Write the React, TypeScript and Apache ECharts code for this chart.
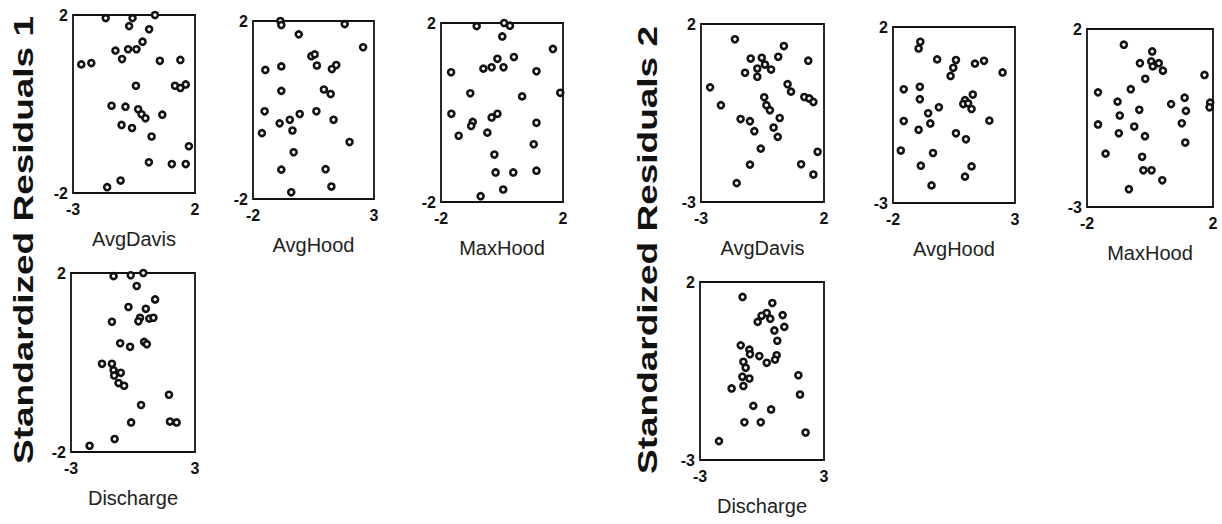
import React, { useEffect, useRef } from "react";
import * as echarts from "echarts";

// Predictor names shared by both residual groups
const predictorNames = ["AvgDavis", "AvgHood", "MaxHood", "Discharge"];
// x range of each predictor panel
const xRanges: [number, number][] = [[-3, 2], [-2, 3], [-2, 2], [-3, 3]];
// y range of each residual group
const yRange1: [number, number] = [-2, 2];
const yRange2: [number, number] = [-3, 2];
const groupTitles = ["Standardized Residuals 1", "Standardized Residuals 2"];

// Residual 1 vs predictors: [predictor, residual]
const res1AvgDavis: [number, number][] = [
  [-1.66, 1.93], [-0.56, 1.93], [0.36, 2.0], [-0.7, 1.75], [0.12, 1.68], [-0.15, 1.4],
  [-1.26, 1.2], [-0.74, 1.23], [-0.4, 1.23], [-0.99, 1.01], [-2.66, 0.89], [-2.25, 0.92],
  [0.56, 0.97], [1.4, 0.99], [-0.42, 0.41], [1.18, 0.41], [1.4, 0.36], [1.62, 0.44],
  [-1.42, -0.04], [-0.85, -0.06], [-0.33, -0.12], [-0.19, -0.23], [-0.03, -0.32], [0.66, -0.24],
  [-1.01, -0.47], [-0.58, -0.54], [0.22, -0.73], [1.75, -0.95], [0.11, -1.31], [1.05, -1.35],
  [1.62, -1.35], [-1.05, -1.72], [-1.6, -1.87],
];
const res1AvgHood: [number, number][] = [
  [-0.87, 2.0], [-0.83, 1.91], [1.79, 1.93], [-0.11, 1.7], [2.55, 1.41], [0.41, 1.21],
  [0.55, 1.25], [0.64, 1.0], [1.26, 0.92], [1.44, 1.01], [-1.49, 0.9], [-0.83, 0.98],
  [-0.83, 0.43], [0.93, 0.46], [1.21, 0.36], [-1.52, -0.03], [0.62, -0.03], [-0.07, -0.09],
  [-0.48, -0.22], [-0.9, -0.3], [1.33, -0.22], [-0.37, -0.46], [-1.63, -0.52], [1.99, -0.72],
  [-0.32, -0.95], [-0.83, -1.34], [1.0, -1.33], [1.24, -1.72], [-0.42, -1.85],
];
const res1MaxHood: [number, number][] = [
  [-0.83, 1.93], [0.07, 2.0], [0.26, 1.94], [0.01, 1.7], [1.67, 1.42], [-0.15, 1.2],
  [0.39, 1.24], [-0.61, 0.98], [-0.34, 1.01], [0.05, 1.01], [-1.67, 0.9], [1.13, 0.92],
  [-1.04, 0.43], [1.91, 0.44], [0.66, 0.36], [-1.66, -0.03], [-0.34, -0.11], [-0.15, -0.03],
  [-0.96, -0.21], [-1.01, -0.3], [1.13, -0.23], [-1.42, -0.52], [-0.48, -0.45], [1.04, -0.71],
  [-0.25, -0.94], [-0.21, -1.34], [0.37, -1.34], [1.13, -1.3], [0.04, -1.72], [-0.7, -1.87],
];
const res1Discharge: [number, number][] = [
  [-0.94, 1.93], [-0.11, 1.95], [0.5, 2.0], [0.18, 1.71], [1.07, 1.41], [-0.22, 1.24],
  [0.62, 1.2], [0.34, 1.0], [0.79, 0.98], [0.99, 1.0], [-1.02, 0.91], [0.26, 0.92],
  [-0.62, 0.43], [-0.14, 0.35], [0.54, 0.46], [0.67, 0.41], [-1.5, -0.03], [-1.02, -0.03],
  [-0.94, -0.17], [-0.59, -0.23], [-0.91, -0.29], [-0.7, -0.46], [-0.43, -0.52], [1.74, -0.72],
  [0.39, -0.95], [-0.09, -1.34], [1.79, -1.32], [2.11, -1.34], [-0.89, -1.71], [-2.1, -1.86],
];

// Residual 2 vs predictors: [predictor, residual]
const res2AvgDavis: [number, number][] = [
  [-1.62, 1.57], [0.37, 1.38], [-0.98, 1.03], [-0.53, 1.05], [0.14, 1.08], [1.36, 0.97],
  [-0.4, 0.86], [-0.71, 0.75], [-0.15, 0.72], [-1.21, 0.63], [-0.71, 0.52], [-2.63, 0.22],
  [0.52, 0.31], [0.66, 0.1], [1.2, -0.05], [1.4, -0.09], [1.57, -0.19], [-0.43, -0.06],
  [-2.19, -0.28], [-0.34, -0.28], [-0.2, -0.42], [0.2, -0.64], [-1.39, -0.67], [-1.01, -0.73],
  [-0.83, -1.01], [-0.05, -0.91], [0.12, -1.17], [-0.57, -1.5], [1.74, -1.59], [-1.01, -1.95],
  [1.07, -1.94], [1.57, -2.23], [-1.55, -2.47],
];
const res2AvgHood: [number, number][] = [
  [-0.88, 1.58], [-0.95, 1.39], [-0.19, 1.08], [0.58, 1.06], [1.36, 0.96], [1.73, 1.04],
  [0.47, 0.84], [0.36, 0.61], [2.49, 0.71], [-1.56, 0.23], [-0.9, 0.3], [-0.9, -0.05],
  [1.27, 0.08], [0.95, -0.08], [0.88, -0.19], [1.08, -0.17], [1.22, -0.33], [-0.12, -0.28],
  [-0.56, -0.45], [-1.56, -0.67], [-0.47, -0.74], [1.95, -0.66], [-0.95, -0.92], [0.58, -1.02],
  [0.99, -1.19], [-1.68, -1.51], [-0.36, -1.58], [-0.86, -1.94], [1.22, -1.96], [0.95, -2.25],
  [-0.42, -2.5],
];
const res2MaxHood: [number, number][] = [
  [-0.83, 1.56], [0.07, 1.37], [-0.32, 1.04], [0.04, 1.09], [0.09, 0.95], [0.28, 1.04],
  [0.41, 0.83], [1.73, 0.71], [-0.15, 0.6], [-0.61, 0.31], [-1.65, 0.22], [1.1, 0.07],
  [1.91, -0.07], [1.89, -0.2], [-1.03, -0.04], [0.67, -0.11], [-0.34, -0.27], [1.14, -0.3],
  [-0.96, -0.43], [-1.65, -0.68], [-0.5, -0.74], [1.01, -0.65], [-0.99, -0.93], [-0.16, -1.01],
  [1.12, -1.19], [-1.41, -1.5], [-0.25, -1.59], [-0.21, -1.97], [0.05, -1.97], [0.39, -2.25],
  [-0.67, -2.5],
];
const res2Discharge: [number, number][] = [
  [-0.94, 1.58], [0.5, 1.41], [1.0, 1.07], [0.23, 1.13], [-0.02, 1.05], [0.4, 0.97],
  [-0.21, 0.88], [1.08, 0.74], [0.6, 0.64], [0.74, 0.35], [-1.03, 0.22], [-0.61, 0.1],
  [-0.58, -0.03], [-0.13, -0.08], [0.71, -0.06], [0.63, -0.18], [0.23, -0.27], [-0.9, -0.24],
  [-0.79, -0.41], [-0.95, -0.66], [-0.61, -0.71], [-0.9, -0.92], [-1.47, -0.99], [1.76, -0.62],
  [1.84, -1.16], [-0.42, -1.48], [0.44, -1.58], [-0.85, -1.94], [-0.06, -1.94], [2.11, -2.23],
  [-2.08, -2.47],
];

const group1Data = [res1AvgDavis, res1AvgHood, res1MaxHood, res1Discharge];
const group2Data = [res2AvgDavis, res2AvgHood, res2MaxHood, res2Discharge];

// Panel frames in pixels: [left, top, width, height]
const frames1 = [
  [73, 15, 122, 178],
  [253, 21, 121, 178],
  [441, 23, 122, 179],
  [71, 273, 124, 179],
];
const frames2 = [
  [701, 24, 123, 178],
  [893, 27, 122, 176],
  [1087, 29, 126, 178],
  [700, 282, 124, 178],
];

const FONT = "'Liberation Sans', Arial, Helvetica, sans-serif";

function buildOption(): echarts.EChartsOption {
  const grid: any[] = [];
  const xAxis: any[] = [];
  const yAxis: any[] = [];
  const series: any[] = [];

  const addPanel = (
    frame: number[],
    xr: [number, number],
    yr: [number, number],
    name: string,
    data: [number, number][]
  ) => {
    const idx = grid.length;
    grid.push({
      left: frame[0],
      top: frame[1],
      width: frame[2],
      height: frame[3],
      show: true,
      borderColor: "#111",
      borderWidth: 1.8,
      backgroundColor: "transparent",
      containLabel: false,
    });
    xAxis.push({
      gridIndex: idx,
      type: "value",
      min: xr[0],
      max: xr[1],
      name,
      nameLocation: "middle",
      nameGap: 36,
      nameTextStyle: { fontSize: 20, color: "#222", fontFamily: FONT },
      axisLine: { show: false },
      axisTick: { show: false },
      splitLine: { show: false },
      axisLabel: {
        customValues: [xr[0], xr[1]],
        fontSize: 16,
        fontWeight: "bold",
        color: "#111",
        fontFamily: FONT,
        margin: 8,
      },
    });
    yAxis.push({
      gridIndex: idx,
      type: "value",
      min: yr[0],
      max: yr[1],
      axisLine: { show: false },
      axisTick: { show: false },
      splitLine: { show: false },
      axisLabel: {
        customValues: [yr[0], yr[1]],
        fontSize: 16,
        fontWeight: "bold",
        color: "#111",
        fontFamily: FONT,
        margin: 5,
      },
    });
    series.push({
      type: "scatter",
      xAxisIndex: idx,
      yAxisIndex: idx,
      data,
      symbol: "circle",
      symbolSize: 6,
      itemStyle: { color: "#f4f4f4", borderColor: "#111", borderWidth: 2.6, opacity: 1 },
      emphasis: { disabled: true },
    });
  };

  predictorNames.forEach((n, i) => addPanel(frames1[i], xRanges[i], yRange1, n, group1Data[i]));
  predictorNames.forEach((n, i) => addPanel(frames2[i], xRanges[i], yRange2, n, group2Data[i]));

  const titleText = (text: string, x: number, y: number) => ({
    type: "text",
    x,
    y,
    rotation: Math.PI / 2,
    scaleX: 1.37,
    silent: true,
    style: {
      text,
      fontSize: 27,
      fontWeight: "bold",
      fontFamily: FONT,
      fill: "#111",
      align: "center",
      verticalAlign: "middle",
      textAlign: "center",
      textVerticalAlign: "middle",
    },
  });

  return {
    animation: false,
    backgroundColor: "#ffffff",
    grid,
    xAxis,
    yAxis,
    series,
    graphic: [
      titleText(groupTitles[0], 24, 240),
      titleText(groupTitles[1], 648, 250),
    ],
  };
}

export default function App() {
  const ref = useRef<HTMLDivElement>(null);
  useEffect(() => {
    if (!ref.current) return;
    const chart = echarts.init(ref.current, undefined, { renderer: "svg" });
    chart.setOption(buildOption());
    return () => chart.dispose();
  }, []);
  return (
    <div
      ref={ref}
      style={{ position: "fixed", left: 0, top: 0, width: 1222, height: 524, background: "#fff" }}
    />
  );
}
